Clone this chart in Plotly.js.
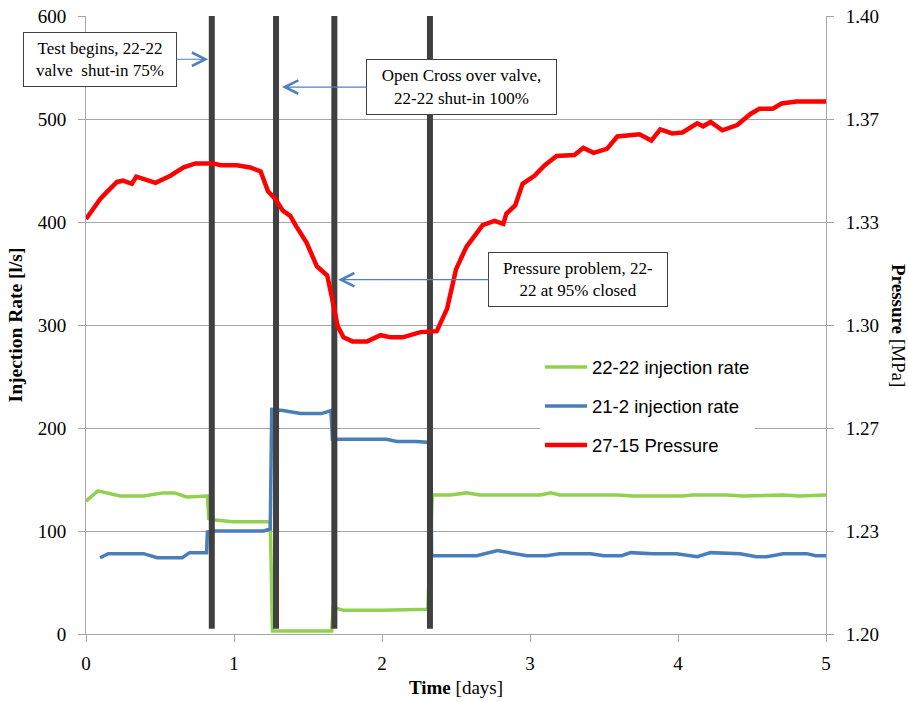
<!DOCTYPE html>
<html>
<head>
<meta charset="utf-8">
<script src="https://cdn.plot.ly/plotly-3.0.1.min.js"></script>
<style>html,body{margin:0;padding:0;background:#fff;}#chart{width:908px;height:702px;}</style>
</head>
<body>
<div id="chart"></div>
<script>
// 22-22 injection rate [l/s]
const greenTime = [0, 0.08, 0.23, 0.39, 0.52, 0.60, 0.68, 0.76, 0.82, 0.83, 0.86, 0.99, 1.245, 1.26, 1.45, 1.66, 1.67, 1.74, 2.0, 2.31, 2.34, 2.46, 2.57, 2.66, 3.07, 3.14, 3.2, 3.59, 3.70, 4.03, 4.10, 4.33, 4.44, 4.60, 4.71, 4.82, 5.0];
const greenRate = [129, 139, 134, 134, 137, 137, 133, 134, 134, 112, 111, 109, 109, 3, 3, 3, 26, 23, 23, 24, 135, 135, 137, 135, 135, 137, 135, 135, 134, 134, 135, 135, 134, 135, 135, 134, 135];

// 21-2 injection rate [l/s]
const blueTime = [0.095, 0.15, 0.39, 0.48, 0.65, 0.70, 0.815, 0.82, 0.86, 1.20, 1.245, 1.255, 1.33, 1.45, 1.59, 1.655, 1.665, 2.03, 2.10, 2.23, 2.33, 2.335, 2.64, 2.78, 2.98, 3.11, 3.2, 3.41, 3.5, 3.62, 3.68, 3.83, 3.99, 4.13, 4.22, 4.42, 4.53, 4.6, 4.71, 4.87, 4.93, 5.0];
const blueRate = [74, 78, 78, 74, 74, 79, 79, 99, 100, 100, 102, 218, 217, 214, 214, 217, 189, 189, 187, 187, 186, 76, 76, 81, 76, 76, 78, 78, 76, 76, 79, 78, 78, 75, 79, 78, 75, 75, 78, 78, 76, 76];

// 27-15 pressure [MPa]
const redTime = [0, 0.095, 0.14, 0.21, 0.25, 0.31, 0.34, 0.47, 0.57, 0.66, 0.74, 0.86, 0.91, 1.02, 1.11, 1.18, 1.23, 1.28, 1.33, 1.38, 1.42, 1.49, 1.56, 1.63, 1.66, 1.70, 1.74, 1.80, 1.90, 1.99, 2.06, 2.14, 2.26, 2.37, 2.44, 2.50, 2.57, 2.68, 2.76, 2.82, 2.84, 2.90, 2.95, 3.03, 3.10, 3.18, 3.30, 3.36, 3.43, 3.52, 3.59, 3.74, 3.82, 3.88, 3.96, 4.03, 4.13, 4.17, 4.22, 4.30, 4.40, 4.49, 4.55, 4.64, 4.70, 4.80, 5.0];
const redPressure = [1.3343, 1.3407, 1.3430, 1.3463, 1.3467, 1.3457, 1.3480, 1.3460, 1.3483, 1.3510, 1.3523, 1.3523, 1.3517, 1.3517, 1.3510, 1.3497, 1.3433, 1.3407, 1.3370, 1.3353, 1.3320, 1.3267, 1.3190, 1.3160, 1.3093, 1.2997, 1.2960, 1.2947, 1.2947, 1.2967, 1.2960, 1.2960, 1.2977, 1.2980, 1.3053, 1.3180, 1.3253, 1.3323, 1.3337, 1.3327, 1.3360, 1.3387, 1.3457, 1.3483, 1.3517, 1.3547, 1.3550, 1.3573, 1.3557, 1.3570, 1.3610, 1.3617, 1.3597, 1.3633, 1.3620, 1.3623, 1.3653, 1.3643, 1.3657, 1.3630, 1.3647, 1.3683, 1.3700, 1.3700, 1.3717, 1.3723, 1.3723];

// event markers (vertical bars)
const eventTimes = [0.85, 1.284, 1.678, 2.324];
const eventLow = 5;
const eventHigh = 600;

// axis ticks
const leftTicks = [0, 100, 200, 300, 400, 500, 600];
const rightTickVals = [1.2, 1.233333, 1.266667, 1.3, 1.333333, 1.366667, 1.4];
const rightTickText = ['1.20', '1.23', '1.27', '1.30', '1.33', '1.37', '1.40'];
const xTicks = [0, 1, 2, 3, 4, 5];

// annotations: text, box centre (time, rate), arrow tip (time, rate)
const noteText = ['Test begins, 22-22<br>valve  shut-in 75%', 'Open Cross over valve,<br>22-22 shut-in 100%', 'Pressure problem, 22-<br>22 at 95% closed'];
const noteBoxX = [0.095, 2.537, 3.324];
const noteBoxY = [558, 531, 344];
const noteTipX = [0.826, 1.324, 1.703];
const noteTipY = [558, 531, 344];
const noteW = [146, 183, 172];
const noteH = [47, 48, 47];

const evX = [], evY = [];
eventTimes.forEach(t => { evX.push(t, t, null); evY.push(eventLow, eventHigh, null); });

const serif = 'Liberation Serif, Times New Roman, serif';
const gridC = '#a6a6a6';

const traces = [
  {x: greenTime, y: greenRate, type: 'scatter', mode: 'lines', name: '22-22 injection rate',
   line: {color: '#92D050', width: 3.5}, legendrank: 1, legendgroup: 'a'},
  {x: blueTime, y: blueRate, type: 'scatter', mode: 'lines', name: '21-2 injection rate',
   line: {color: '#4A7EBB', width: 3.5}, legendrank: 2, legendgroup: 'b'},
  {x: evX, y: evY, type: 'scatter', mode: 'lines', showlegend: false, hoverinfo: 'skip',
   line: {color: '#404040', width: 6}},
  {x: redTime, y: redPressure, type: 'scatter', mode: 'lines', name: '27-15 Pressure', yaxis: 'y2',
   line: {color: '#FF0000', width: 4.5}, legendrank: 3, legendgroup: 'c'}
];

const annotations = noteText.map((t, i) => ({
  text: t, x: noteTipX[i], y: noteTipY[i], xref: 'x', yref: 'y',
  ax: noteBoxX[i], ay: noteBoxY[i], axref: 'x', ayref: 'y',
  showarrow: true, arrowhead: 5, arrowsize: 2.2, arrowwidth: 1.2, arrowcolor: '#4F81BD',
  bgcolor: '#ffffff', bordercolor: '#404040', borderwidth: 1, borderpad: 3,
  width: noteW[i], height: noteH[i],
  font: {family: serif, size: 17, color: '#000'}, align: 'center'
}));
annotations.push({
  text: '<b>Pressure</b> [MPa]', textangle: 90, xref: 'paper', yref: 'paper',
  x: 1.0, xshift: 73, y: 0.5, showarrow: false, xanchor: 'center', yanchor: 'middle',
  font: {family: serif, size: 19, color: '#000'}
});

const layout = {
  width: 908, height: 702,
  margin: {l: 86, r: 82, t: 16, b: 68},
  paper_bgcolor: '#fff', plot_bgcolor: '#fff',
  font: {family: serif, size: 19, color: '#000'},
  showlegend: true,
  legend: {x: 0.6135, y: 0.462, xanchor: 'left', yanchor: 'top', bgcolor: '#fff', borderwidth: 0,
           font: {family: 'Liberation Sans, Arial, sans-serif', size: 18.5, color: '#000'},
           itemwidth: 42, traceorder: 'grouped', tracegroupgap: 12},
  xaxis: {range: [0, 5], tickvals: xTicks, ticks: 'outside', ticklen: 7, tickcolor: gridC,
          showgrid: false, zeroline: false, showline: true, linecolor: gridC, linewidth: 1,
          ticklabelstandoff: 5, tickfont: {family: serif, size: 19, color: '#000'},
          title: {text: '<b>Time</b> [days]', font: {family: serif, size: 19, color: '#000'}, standoff: 7}},
  yaxis: {range: [0, 600], tickvals: leftTicks, ticks: 'outside', ticklen: 7, tickcolor: gridC,
          showgrid: true, gridcolor: gridC, gridwidth: 1, zeroline: false, showline: true, linecolor: gridC,
          ticklabelstandoff: 8, tickfont: {family: serif, size: 19, color: '#000'},
          title: {text: '<b>Injection Rate [l/s]</b>', font: {family: serif, size: 19.5, color: '#000'}, standoff: 9}},
  yaxis2: {range: [1.2, 1.4], overlaying: 'y', side: 'right', tickvals: rightTickVals, ticktext: rightTickText,
           ticks: 'outside', ticklen: 7, tickcolor: gridC, showgrid: false, zeroline: false,
           showline: true, linecolor: gridC, ticklabelstandoff: 8,
           tickfont: {family: serif, size: 19, color: '#000'}},
  annotations: annotations
};

Plotly.newPlot('chart', traces, layout, {staticPlot: true, displayModeBar: false});
</script>
</body>
</html>
